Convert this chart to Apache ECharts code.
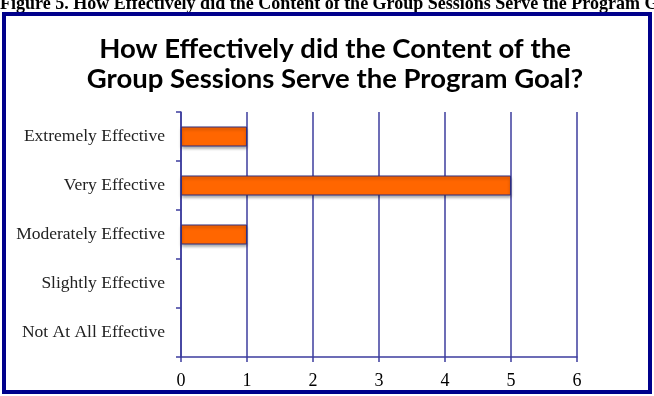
<!DOCTYPE html>
<html>
<head>
<meta charset="utf-8">
<script src="https://cdn.jsdelivr.net/npm/echarts@6/dist/echarts.min.js"></script>
<style>
html, body { margin: 0; padding: 0; background: #fff; }
#chart { width: 654px; height: 396px; }
</style>
</head>
<body>
<div id="chart"></div>
<script>
// categories bottom -> top
const categories = ['Not At All Effective', 'Slightly Effective', 'Moderately Effective', 'Very Effective', 'Extremely Effective']
const counts = [0, 0, 1, 5, 1]
const xTicks = [0, 1, 2, 3, 4, 5, 6]

const axisColor = '#3d3d9e'
const chart = echarts.init(document.getElementById('chart'))
chart.setOption({
  animation: false,
  title: {
    text: 'How Effectively did the Content of the\nGroup Sessions Serve the Program Goal?',
    left: 330,
    textAlign: 'center',
    top: 29,
    textStyle: {
      fontFamily: 'Lato',
      fontWeight: 'bold',
      fontSize: 27.5,
      lineHeight: 30,
      color: '#000'
    }
  },
  graphic: [
    {
      type: 'rect',
      shape: { x: 4, y: 14, width: 646, height: 378 },
      style: { fill: 'none', stroke: '#00008b', lineWidth: 4 },
      z: 10
    },
    {
      type: 'text',
      left: 0,
      top: -5,
      style: {
        text: 'Figure 5. How Effectively did the Content of the Group Sessions Serve the Program Goal?',
        font: 'bold 18px "Liberation Serif"',
        fill: '#000'
      }
    }
  ],
  grid: { left: 181, right: 77, top: 112, bottom: 39 },
  xAxis: {
    type: 'value',
    min: xTicks[0],
    max: xTicks[xTicks.length - 1],
    interval: 1,
    axisLine: { show: true, lineStyle: { color: axisColor, width: 1.5 } },
    axisTick: { show: true, length: 5, lineStyle: { color: axisColor, width: 1.5 } },
    splitLine: { show: true, lineStyle: { color: axisColor, width: 1.5 } },
    axisLabel: { fontFamily: 'Liberation Serif', fontSize: 18, color: '#000', margin: 15 }
  },
  yAxis: {
    type: 'category',
    data: categories,
    axisLine: { show: true, lineStyle: { color: axisColor, width: 1.5 } },
    axisTick: { show: true, length: 5, lineStyle: { color: axisColor, width: 1.5 } },
    axisLabel: { fontFamily: 'Liberation Serif', fontSize: 17.5, color: '#222', margin: 16 }
  },
  series: [{
    type: 'bar',
    // zero counts draw no bar at all
    data: counts.map(v => (v === 0 ? '-' : v)),
    barWidth: 20,
    itemStyle: {
      color: '#ff6600',
      borderColor: '#2e2e80',
      borderWidth: 1,
      shadowColor: 'rgba(0,0,0,0.35)',
      shadowBlur: 3,
      shadowOffsetY: 2
    }
  }]
})
</script>
</body>
</html>
